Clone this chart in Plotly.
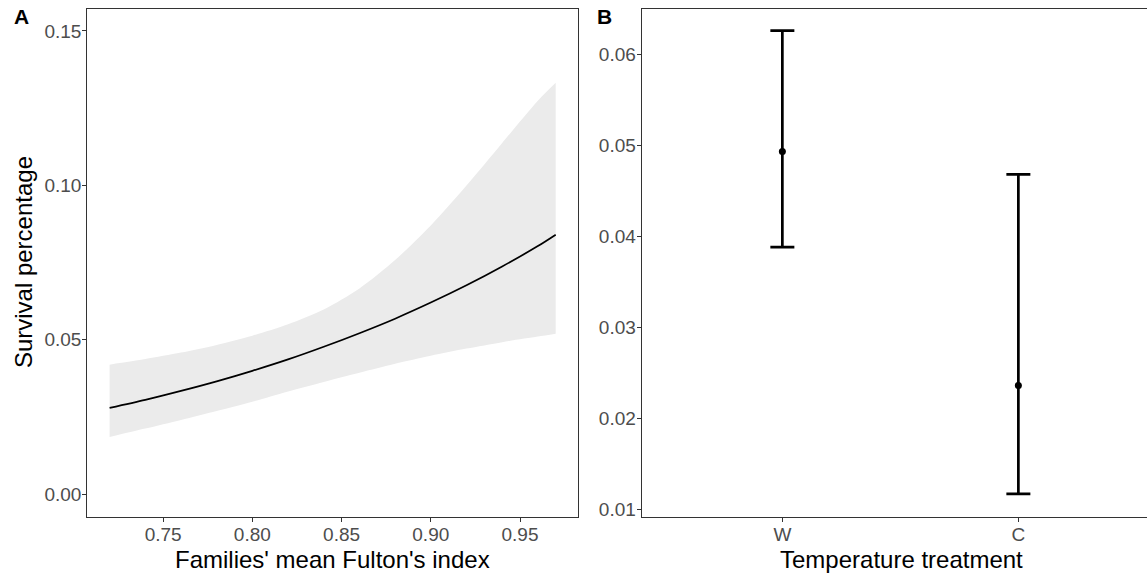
import plotly.graph_objects as go

# Panel A: predicted survival vs Fulton's index
fulton = [0.72, 0.74, 0.76, 0.78, 0.80, 0.82, 0.84, 0.86, 0.88, 0.90, 0.92, 0.94, 0.96, 0.97]
surv_fit = [0.0279, 0.0305, 0.0334, 0.0365, 0.0399, 0.0436, 0.0477, 0.0521, 0.0568, 0.0620,
            0.0676, 0.0737, 0.0803, 0.0840]
surv_upper = [0.0419, 0.0437, 0.0458, 0.0483, 0.0513, 0.0550, 0.0598, 0.0666, 0.0758, 0.0870,
              0.0999, 0.1137, 0.1274, 0.1332]
surv_lower = [0.0185, 0.0212, 0.0240, 0.0269, 0.0299, 0.0332, 0.0363, 0.0393, 0.0422, 0.0448,
              0.0471, 0.0492, 0.0510, 0.0519]
a_yticks = [0.00, 0.05, 0.10, 0.15]
a_xticks = [0.75, 0.80, 0.85, 0.90, 0.95]

# Panel B: survival by temperature treatment
treatments = ["W", "C"]
treat_mean = [0.0493, 0.0236]
treat_upper = [0.0626, 0.0468]
treat_lower = [0.0388, 0.0117]
b_yticks = [0.01, 0.02, 0.03, 0.04, 0.05, 0.06]

W, H = 1147, 575
FONT = "Liberation Sans, Arial, sans-serif"
AXC = "#333333"
TICKC = "#4D4D4D"

fig = go.Figure()

# ribbon
fig.add_trace(go.Scatter(x=fulton, y=surv_upper, mode="lines", line=dict(width=0, shape="spline", smoothing=0.8),
                         showlegend=False, hoverinfo="skip", xaxis="x", yaxis="y"))
fig.add_trace(go.Scatter(x=fulton, y=surv_lower, mode="lines", line=dict(width=0, shape="spline", smoothing=0.8),
                         fill="tonexty", fillcolor="#EBEBEB", showlegend=False, hoverinfo="skip",
                         xaxis="x", yaxis="y"))
fig.add_trace(go.Scatter(x=fulton, y=surv_fit, mode="lines",
                         line=dict(color="black", width=1.7, shape="spline", smoothing=0.8),
                         showlegend=False, xaxis="x", yaxis="y"))

# error bars panel B
plus = [u - m for u, m in zip(treat_upper, treat_mean)]
minus = [m - l for m, l in zip(treat_mean, treat_lower)]
fig.add_trace(go.Scatter(x=treatments, y=treat_mean, mode="markers",
                         marker=dict(color="black", size=7),
                         error_y=dict(type="data", array=plus, arrayminus=minus, visible=True,
                                      color="black", thickness=2.7, width=12),
                         showlegend=False, xaxis="x2", yaxis="y2"))

ydom = [1 - 519.3 / H, 1 - 9 / H]
tickfont = dict(family=FONT, size=19, color=TICKC)
common = dict(showgrid=False, zeroline=False, showline=True, linecolor=AXC, linewidth=1.1,
              ticks="outside", ticklen=4, tickwidth=1.1, tickcolor=AXC, tickfont=tickfont)

fig.update_layout(
    width=W, height=H,
    margin=dict(l=0, r=0, t=0, b=0),
    paper_bgcolor="white", plot_bgcolor="white",
    xaxis=dict(domain=[87.3 / W, 578 / W], range=[0.7075, 0.9825], tickvals=a_xticks,
               ticktext=[f"{v:.2f}" for v in a_xticks], mirror=True, anchor="y",
               ticklabelstandoff=-3, **common),
    yaxis=dict(domain=ydom, range=[-0.0073, 0.1571], tickvals=a_yticks,
               ticktext=[f"{v:.2f}" for v in a_yticks], mirror=True, anchor="x",
               ticklabelstandoff=-3, **common),
    xaxis2=dict(domain=[641.7 / W, 1.0], range=[-0.596, 1.545], type="category",
                categoryorder="array", categoryarray=treatments, mirror=True, anchor="y2",
                ticklabelstandoff=-3, **common),
    yaxis2=dict(domain=ydom, range=[0.00921, 0.06497], tickvals=b_yticks,
                ticktext=[f"{v:.2f}" for v in b_yticks], mirror=False, anchor="x2",
                ticklabelstandoff=-3, **common),
    annotations=[
        dict(text="Families' mean Fulton's index", x=332.6 / W, y=1 - 562 / H, xref="paper", yref="paper",
             showarrow=False, xanchor="center", yanchor="middle", font=dict(family=FONT, size=24, color="black")),
        dict(text="Survival percentage", x=23.5 / W, y=1 - 264 / H, xref="paper", yref="paper",
             showarrow=False, xanchor="center", yanchor="middle", textangle=-90,
             font=dict(family=FONT, size=24, color="black")),
        dict(text="Temperature treatment", x=901 / W, y=1 - 562 / H, xref="paper", yref="paper",
             showarrow=False, xanchor="center", yanchor="middle", font=dict(family=FONT, size=24, color="black")),
        dict(text="<b>A</b>", x=12 / W, y=1 - 17 / H, xref="paper", yref="paper", showarrow=False,
             xanchor="left", yanchor="middle", font=dict(family=FONT, size=21, color="black")),
        dict(text="<b>B</b>", x=595 / W, y=1 - 17 / H, xref="paper", yref="paper", showarrow=False,
             xanchor="left", yanchor="middle", font=dict(family=FONT, size=21, color="black")),
    ],
)

fig.write_html("out.html")
